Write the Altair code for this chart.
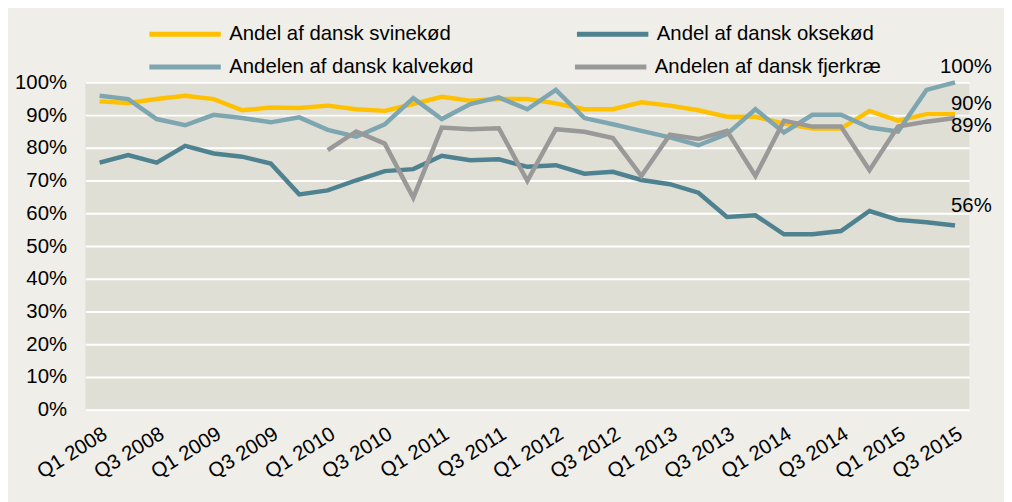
import altair as alt
import pandas as pd

quarters = [f"Q{q} {y}" for y in range(2008, 2016) for q in range(1, 5)][:31]

series_names = [
    "Andel af dansk svinekød",
    "Andel af dansk oksekød",
    "Andelen af dansk kalvekød",
    "Andelen af dansk fjerkræ",
]

pork = [94.2, 93.7, 94.9, 95.9, 94.9, 91.5, 92.3, 92.2, 92.9, 91.8, 91.3, 93.4, 95.6, 94.4, 94.9, 94.9,
        93.6, 91.8, 91.8, 93.9, 92.9, 91.5, 89.5, 89.5, 87.4, 85.9, 85.9, 91.3, 88.3, 90.3, 90.3]
beef = [75.5, 77.8, 75.5, 80.6, 78.3, 77.3, 75.2, 65.8, 67.0, 70.1, 72.9, 73.5, 77.6, 76.2, 76.5, 74.2,
        74.7, 72.1, 72.7, 70.2, 68.9, 66.3, 58.9, 59.4, 53.6, 53.6, 54.6, 60.7, 58.0, 57.3, 56.3]
veal = [95.9, 94.9, 88.8, 86.9, 90.1, 89.1, 87.8, 89.3, 85.5, 83.4, 87.2, 95.2, 88.8, 93.4, 95.4, 91.8,
        97.7, 89.1, 87.2, 85.2, 83.2, 80.8, 84.2, 91.8, 84.7, 90.1, 90.1, 86.2, 85.0, 97.7, 100.0]
poultry = [None] * 8 + [79.3, 85.0, 81.3, 64.8, 86.2, 85.7, 86.0, 69.9, 85.7, 84.9, 83.0, 71.4, 84.0,
                        82.7, 85.2, 71.4, 88.3, 86.5, 86.5, 73.2, 86.5, 88.0, 89.1]

colors = {
    "Andel af dansk svinekød": "#FFC000",
    "Andel af dansk oksekød": "#4E8290",
    "Andelen af dansk kalvekød": "#7EA6B1",
    "Andelen af dansk fjerkræ": "#999999",
}

rows = []
for name, vals in zip(series_names, [pork, beef, veal, poultry]):
    for q, v in zip(quarters, vals):
        if v is not None:
            rows.append({"quarter": q, "series": name, "value": v})
df = pd.DataFrame(rows)

FONT = "Liberation Sans"
FS = 20.5

x_enc = alt.X("quarter:O", sort=quarters, title=None,
              axis=alt.Axis(values=quarters[::2], labelAngle=328, domain=False, ticks=False,
                            labelFontSize=FS, labelFont=FONT, labelColor="#000000",
                            labelPadding=14, grid=False, labelOverlap=False))
y_enc = alt.Y("value:Q", scale=alt.Scale(domain=[0, 100], nice=False), title=None,
              axis=alt.Axis(values=list(range(0, 101, 10)), labelExpr="datum.value + '%'",
                            domain=False, ticks=False, gridColor="#FFFFFF", gridWidth=2,
                            gridOpacity=1, labelFontSize=FS, labelFont=FONT,
                            labelColor="#000000", labelPadding=19, labelOverlap=False))

base = alt.Chart(df)

# one legend row per pair of series
legend_rows = [
    ([series_names[0], series_names[1]], -87, 116),
    ([series_names[2], series_names[3]], -54, 91),
]

line_layers = []
for names, ly, colpad in legend_rows:
    layer = base.transform_filter(
        alt.FieldOneOfPredicate(field="series", oneOf=names)
    ).mark_line(strokeWidth=4.5).encode(
        x=x_enc,
        y=y_enc,
        color=alt.Color("series:N", sort=names,
                        scale=alt.Scale(domain=names, range=[colors[n] for n in names]),
                        legend=alt.Legend(title=None, orient="none", legendX=62, legendY=ly,
                                          columns=2, columnPadding=colpad,
                                          symbolType="stroke", symbolSize=5184,
                                          symbolStrokeWidth=5, labelOffset=6,
                                          labelFontSize=FS, labelFont=FONT,
                                          labelColor="#000000", labelLimit=400, padding=0)),
    )
    line_layers.append(layer)

label_offsets = {
    "Andelen af dansk kalvekød": (11, -15, "center"),
    "Andel af dansk svinekød": (-4, -10, "left"),
    "Andelen af dansk fjerkræ": (-4, 8, "left"),
    "Andel af dansk oksekød": (-4, -19.5, "left"),
}

texts = []
for name, (dx, dy, al) in label_offsets.items():
    t = base.transform_filter(
        (alt.datum.quarter == quarters[-1]) & (alt.datum.series == name)
    ).transform_calculate(
        label="format(datum.value, '.0f') + '%'"
    ).mark_text(dx=dx, dy=dy, align=al, baseline="middle", fontSize=FS, font=FONT,
                color="#000000").encode(
        x=x_enc,
        y=y_enc,
        text="label:N",
    )
    texts.append(t)

chart = alt.layer(*line_layers, *texts).resolve_scale(color="independent").properties(
    width=891, height=330,
    background="#EFEEE8",
    padding={"left": 78, "top": 73, "right": 35, "bottom": 91},
    autosize=alt.AutoSizeParams(type="none"),
).configure_view(fill="#E0DFD5", strokeWidth=0)

chart.save("out.html", embed_options={"renderer": "svg", "actions": False})
